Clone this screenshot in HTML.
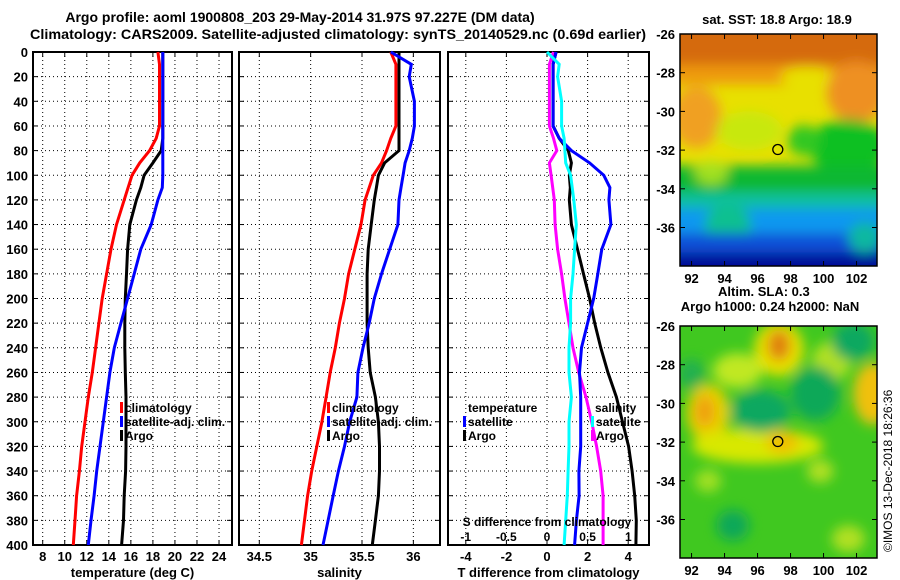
<!DOCTYPE html>
<html><head><meta charset="utf-8">
<style>
html,body{margin:0;padding:0;background:#fff;}
svg{display:block;font-family:"Liberation Sans",sans-serif;font-weight:bold;}
text{font-size:13px;fill:#000;}
text.leg{font-size:12px;}
</style></head>
<body>
<svg id="fig" width="900" height="580" viewBox="0 0 900 580">
<defs>
  <filter id="blur1" filterUnits="userSpaceOnUse" x="600" y="0" width="300" height="600"><feGaussianBlur stdDeviation="6"/></filter>
  <clipPath id="clipTop"><rect x="680" y="34" width="197" height="232"/></clipPath>
  <clipPath id="clipBot"><rect x="680" y="326" width="197" height="232"/></clipPath>
</defs>
<text x="300" y="22" text-anchor="middle" style="font-size:14px">Argo profile: aoml 1900808_203 29-May-2014 31.97S 97.227E (DM data)</text>
<text x="338" y="39" text-anchor="middle" style="font-size:14px" textLength="616" lengthAdjust="spacingAndGlyphs">Climatology: CARS2009. Satellite-adjusted climatology: synTS_20140529.nc (0.69d earlier)</text>
<g id="panels"></g>
<g id="maps"></g>
<text transform="translate(892,552) rotate(-90)" style="font-size:12px;font-weight:normal">©IMOS 13-Dec-2018 18:26:36</text>
</svg>
<script>
const depths = [0,10,20,40,60,70,80,90,100,110,120,140,160,180,200,220,240,260,280,300,320,340,360,380,400];
const tClim = [18.45,18.6,18.6,18.6,18.6,18.3,17.7,16.8,16.1,15.75,15.4,14.7,14.2,13.8,13.4,13.1,12.8,12.5,12.14,11.84,11.54,11.33,11.08,10.93,10.78];
const tSat  = [18.9,18.9,18.9,18.9,18.9,18.9,18.9,18.9,18.9,18.85,18.45,17.85,16.9,16.3,15.7,15.1,14.5,14.1,13.8,13.5,13.2,12.9,12.66,12.38,12.14];
const tArgo = [18.9,18.9,18.9,18.9,18.9,18.9,18.75,18.0,17.2,16.9,16.5,15.9,15.7,15.6,15.5,15.45,15.45,15.5,15.56,15.56,15.56,15.52,15.4,15.33,15.16];
const sClim = [35.78,35.83,35.83,35.83,35.83,35.78,35.74,35.69,35.61,35.57,35.53,35.49,35.43,35.37,35.33,35.28,35.24,35.19,35.15,35.11,35.06,35.01,34.97,34.94,34.91];
const sSat  = [35.78,35.98,35.96,36.01,36.01,35.99,35.96,35.92,35.90,35.88,35.86,35.85,35.77,35.69,35.62,35.57,35.51,35.46,35.45,35.38,35.33,35.27,35.22,35.17,35.12];
const sArgo = [35.86,35.86,35.86,35.86,35.86,35.86,35.86,35.72,35.66,35.64,35.62,35.59,35.56,35.55,35.55,35.55,35.56,35.58,35.63,35.66,35.67,35.67,35.66,35.63,35.60];
const depthTicks = [0,20,40,60,80,100,120,140,160,180,200,220,240,260,280,300,320,340,360,380,400];
const tTicks = [8,10,12,14,16,18,20,22,24];
const sTicks = [34.5,35,35.5,36];
const dTTicks = [-4,-2,0,2,4];
const dSTicks = [-1,-0.5,0,0.5,1];
const lonTicks = [92,94,96,98,100,102];
const latTicks = [-26,-28,-30,-32,-34,-36];
const sstTitle = "sat. SST: 18.8 Argo: 18.9";
const slaTitle1 = "Altim. SLA: 0.3";
const slaTitle2 = "Argo h1000: 0.24 h2000: NaN";
const floatLon = 97.227, floatLat = -31.97;

const NS = "http://www.w3.org/2000/svg";
function mk(tag, attrs, parent){ const e=document.createElementNS(NS,tag); for(const k in attrs) e.setAttribute(k,attrs[k]); parent.appendChild(e); return e; }
const Y0 = 52, Y1 = 545;
const yScale = d => Y0 + d*(Y1-Y0)/400;
const xT = t => 42.7 + (t-8)*11.02;
const xS = s => 259.3 + (s-34.5)*102.7;
const xDT = d => 547 + d*20.3;
const xDS = d => 547 + d*81.3;

const panelsG = document.getElementById('panels');
function drawPanel(name, x0, x1, ticks, xf, labelFmt, title, showDepth){
  const g = mk('g',{},panelsG);
  
  
  depthTicks.forEach(d=>{
    if(d>0 && d<400){
      const l = mk('line',{x1:x0,x2:x1,y1:yScale(d),y2:yScale(d),stroke:'#000','stroke-width':1,'stroke-dasharray':'1,3'},g);
      
      
    }
    mk('line',{x1:x0,x2:x0+5,y1:yScale(d),y2:yScale(d),stroke:'#000'},g);
    mk('line',{x1:x1-5,x2:x1,y1:yScale(d),y2:yScale(d),stroke:'#000'},g);
    if(showDepth){
      const t = mk('text',{x:x0-5,y:yScale(d)+5,'text-anchor':'end'},g);
      t.textContent = d;
      
      
    }
  });
  ticks.forEach(v=>{
    const x = xf(v);
    const l = mk('line',{x1:x,x2:x,y1:Y0,y2:Y1,stroke:'#000','stroke-width':1,'stroke-dasharray':'1,3'},g);
    
    
    mk('line',{x1:x,x2:x,y1:Y1-5,y2:Y1,stroke:'#000'},g);
    mk('line',{x1:x,x2:x,y1:Y0,y2:Y0+5,stroke:'#000'},g);
    const t = mk('text',{x:x,y:561,'text-anchor':'middle'},g);
    t.textContent = labelFmt(v);
    
    
  });
  const fr = mk('rect',{x:x0,y:Y0,width:x1-x0,height:Y1-Y0,fill:'none',stroke:'#000','stroke-width':2},g);
  
  
  const at = mk('text',{x:(x0+x1)/2,y:577,'text-anchor':'middle'},g);
  at.textContent = title;
  
  
  return g;
}
function series(g, vals, xf, color, name){
  const pts = depths.map((d,i)=>xf(vals[i]).toFixed(1)+','+yScale(d).toFixed(1)).join(' ');
  const p = mk('polyline',{points:pts,fill:'none',stroke:color,'stroke-width':3,'stroke-linejoin':'miter'},g);
  
  
}
function legend(g, x, y, color, label, name){
  const r = mk('rect',{x:x,y:y-10,width:3,height:11,fill:color},g);
  
  
  const t = mk('text',{x:x+5,y:y,'class':'leg'},g);
  t.textContent = label;
  
  
}

const g1 = drawPanel('temperature-panel',33,232,tTicks,xT,v=>v,'temperature (deg C)',true);
series(g1,tClim,xT,'#ff0000','temp-climatology-line');
series(g1,tArgo,xT,'#000000','temp-argo-line');
series(g1,tSat,xT,'#0000ff','temp-satellite-line');
legend(g1,120,412,'#ff0000','climatology','legend-climatology');
legend(g1,120,426,'#0000ff','satellite-adj. clim.','legend-satellite');
legend(g1,120,440,'#000000','Argo','legend-argo');

const g2 = drawPanel('salinity-panel',239,440,sTicks,xS,v=>v,'salinity',false);
series(g2,sClim,xS,'#ff0000','sal-climatology-line');
series(g2,sArgo,xS,'#000000','sal-argo-line');
series(g2,sSat,xS,'#0000ff','sal-satellite-line');
legend(g2,327,412,'#ff0000','climatology','legend-climatology');
legend(g2,327,426,'#0000ff','satellite-adj. clim.','legend-satellite');
legend(g2,327,440,'#000000','Argo','legend-argo');

const g3 = drawPanel('difference-panel',448,649,dTTicks,xDT,v=>v,'T difference from climatology',false);
const dTSat = tSat.map((v,i)=>v-tClim[i]);
const dTArgo = tArgo.map((v,i)=>v-tClim[i]);
const dSSat = sSat.map((v,i)=>v-sClim[i]);
const dSArgo = sArgo.map((v,i)=>v-sClim[i]);
series(g3,dSArgo,xDS,'#ff00ff','sal-diff-argo-line');
series(g3,dTArgo,xDT,'#000000','temp-diff-argo-line');
series(g3,dTSat,xDT,'#0000ff','temp-diff-satellite-line');
series(g3,dSSat,xDS,'#00ffff','sal-diff-satellite-line');
dSTicks.forEach(v=>{
  const t = mk('text',{x:xDS(v),y:541,'text-anchor':'middle','class':'leg'},g3);
  t.textContent = v;
  
  
});
const sdt = mk('text',{x:547,y:526,'text-anchor':'middle','class':'leg'},g3);
sdt.textContent = 'S difference from climatology';


const th = mk('text',{x:468,y:412,'class':'leg'},g3); th.textContent='temperature';


legend(g3,463,426,'#0000ff','satellite','legend-temp-satellite');
legend(g3,463,440,'#000000','Argo','legend-temp-argo');
const sh = mk('text',{x:595,y:412,'class':'leg'},g3); sh.textContent='salinity';


legend(g3,591,426,'#00ffff','satellite','legend-sal-satellite');
legend(g3,591,440,'#ff00ff','Argo','legend-sal-argo');

// maps
const mapsG = document.getElementById('maps');
const MX0=680, MX1=877;
const lonX = lon => MX0 + (lon-91.3)*16.5;
function drawMap(name, top, clipId, bg, blobs, titleLines){
  const latY = lat => top + (-26-lat)*19.35;
  const g = mk('g',{},mapsG);
  
  
  const inner = mk('g',{'clip-path':'url(#'+clipId+')'},g);
  mk('rect',{x:MX0,y:top,width:MX1-MX0,height:232,fill:bg},inner);
  const bl = mk('g',{filter:'url(#blur1)'},inner);
  blobs.forEach(b=>{
    if(b.band){ mk('rect',{x:MX0-30,y:latY(b.band[0]),width:MX1-MX0+60,height:latY(b.band[1])-latY(b.band[0]),fill:b.c},bl); }
    else mk('ellipse',{cx:lonX(b.lon),cy:latY(b.lat),rx:b.rx*16.5,ry:b.ry*19.35,fill:b.c},bl);
  });
  const c = mk('circle',{cx:lonX(floatLon),cy:latY(floatLat),r:5,fill:'none',stroke:'#000','stroke-width':1.3},g);
  
  
  mk('rect',{x:MX0,y:top,width:MX1-MX0,height:232,fill:'none',stroke:'#000','stroke-width':1.5},g);
  lonTicks.forEach(v=>{
    mk('line',{x1:lonX(v),x2:lonX(v),y1:top+232,y2:top+227,stroke:'#000'},g);
    mk('line',{x1:lonX(v),x2:lonX(v),y1:top,y2:top+5,stroke:'#000'},g);
    const t = mk('text',{x:lonX(v),y:top+249,'text-anchor':'middle'},g);
    t.textContent = v;
    
    
  });
  latTicks.forEach(v=>{
    mk('line',{x1:MX0,x2:MX0+5,y1:latY(v),y2:latY(v),stroke:'#000'},g);
    mk('line',{x1:MX1-5,x2:MX1,y1:latY(v),y2:latY(v),stroke:'#000'},g);
    const t = mk('text',{x:MX0-5,y:latY(v)+5,'text-anchor':'end'},g);
    t.textContent = v;
    
    
  });
  titleLines.forEach((s,i)=>{
    const t = mk('text',{x:titleLines.length>1?(i===0?718:770):777,y:titleLines.length>1?(top-30+i*15):(top-10),'text-anchor':titleLines.length>1?(i===0?'start':'middle'):'middle'},g);
    t.textContent = s;
    
    
  });
}
drawMap('sst-map',34,'clipTop','#e8e000',[
  {band:[-24,-27.6],c:'#d56a08'},
  {band:[-27.6,-28.6],c:'#ee9a10'},
  {lon:99,lat:-28.2,rx:1.6,ry:0.5,c:'#e8e000'},
  {lon:92.3,lat:-30.3,rx:1.5,ry:1.6,c:'#f0a020'},
  {lon:102,lat:-29,rx:1.8,ry:1.6,c:'#ee9020'},
  {lon:101.5,lat:-31.8,rx:2.4,ry:1.4,c:'#10c020'},
  {lon:95.5,lat:-31,rx:2,ry:1,c:'#c8e810'},
  {lon:98.8,lat:-31.5,rx:1.0,ry:0.8,c:'#30c820'},
  {band:[-32.8,-34.2],c:'#10b830'},
  {lon:93.2,lat:-33.2,rx:1,ry:0.6,c:'#a0e020'},
  {band:[-34.2,-35.0],c:'#10c0a0'},
  {band:[-35.0,-36.3],c:'#1098f0'},
  {lon:94.2,lat:-35.9,rx:1.4,ry:1.1,c:'#10c090'},
  {band:[-36.3,-37.3],c:'#1050d8'},
  {band:[-37.3,-40],c:'#000c98'},
  {lon:102.5,lat:-36.5,rx:1,ry:0.8,c:'#10b8a0'}
],[sstTitle]);
drawMap('sla-map',326,'clipBot','#40c820',[
  {lon:97.3,lat:-27.2,rx:1.5,ry:1.4,c:'#e8e000'},
  {lon:97.3,lat:-27,rx:0.7,ry:0.8,c:'#e08010'},
  {lon:93,lat:-30.5,rx:1.3,ry:1.5,c:'#e8d000'},
  {lon:92.8,lat:-30.4,rx:0.6,ry:0.8,c:'#f0a010'},
  {lon:103,lat:-29.5,rx:1.2,ry:1.6,c:'#f0c010'},
  {lon:96,lat:-32.2,rx:4,ry:0.9,c:'#d8e800'},
  {lon:97.5,lat:-32,rx:1,ry:0.6,c:'#f0c000'},
  {lon:94.8,lat:-28.3,rx:1.5,ry:0.9,c:'#c0e820'},
  {lon:100.5,lat:-27.8,rx:1.2,ry:1,c:'#b0e020'},
  {lon:96.2,lat:-30.4,rx:1.8,ry:1.1,c:'#10a860'},
  {lon:99.5,lat:-29.5,rx:1.5,ry:1.4,c:'#10a858'},
  {lon:101.8,lat:-26.8,rx:1.3,ry:1,c:'#10a860'},
  {lon:92,lat:-28.5,rx:0.8,ry:0.8,c:'#20b050'},
  {lon:94.5,lat:-36.3,rx:1,ry:0.8,c:'#10a858'},
  {lon:93,lat:-34,rx:0.8,ry:0.6,c:'#a0e020'},
  {lon:99.8,lat:-33.5,rx:0.8,ry:0.6,c:'#b0e020'},
  {lon:101.5,lat:-37,rx:1,ry:0.7,c:'#b0e020'}
],[slaTitle1,slaTitle2]);
</script>
</body></html>
